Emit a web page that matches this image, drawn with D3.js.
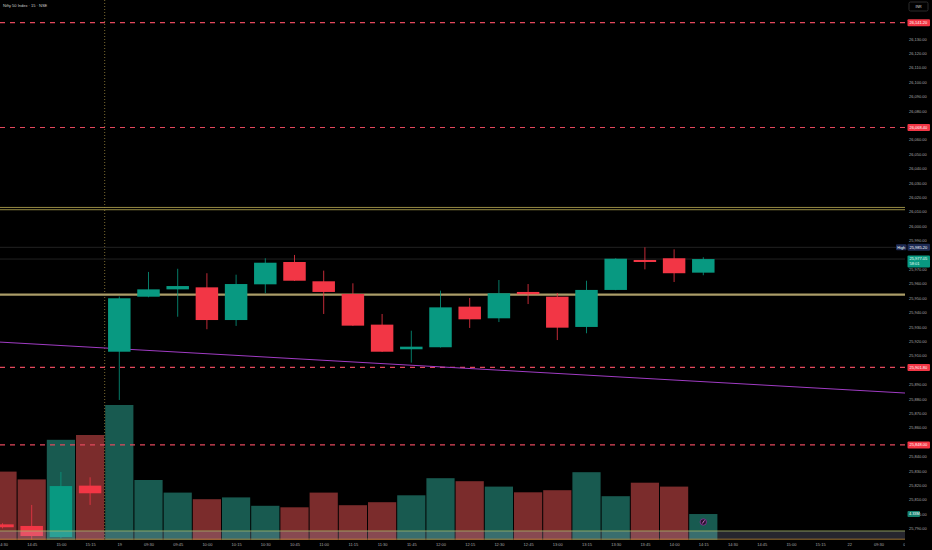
<!DOCTYPE html>
<html>
<head>
<meta charset="utf-8">
<script src="https://cdn.jsdelivr.net/npm/d3@7"></script>
<style>
  body { margin: 0; background: #000; }
  text { font-family: "Liberation Sans", Arial, sans-serif; }
</style>
</head>
<body>
<svg width="932" height="550"></svg>
<script>
// 15 minute bars, index 0 = 14:30 of the previous session
const timeLabels = ["14:30","14:45","15:00","15:15","19","09:30","09:45","10:00","10:15","10:30",
  "10:45","11:00","11:15","11:30","11:45","12:00","12:15","12:30","12:45","13:00",
  "13:15","13:30","13:45","14:00","14:15","14:30","14:45","15:00","15:15","22","09:30","09:45"];

const opens  = [25792.8,25791.7,25784.0,25819.7,25912.7,25950.9,25956.0,25957.4,25934.7,25959.5,
  25975.0,25961.6,25952.8,25931.5,25914.4,25915.8,25944.0,25935.9,25954.2,25950.9,
  25929.9,25955.6,25976.4,25977.6,25967.6];
const highs  = [25793.6,25806.3,25829.2,25825.5,25951.0,25968.1,25970.3,25967.2,25966.2,25977.6,
  25979.9,25969.0,25960.2,25938.9,25927.3,25955.1,25950.0,25962.5,25959.7,25953.5,
  25962.0,25977.6,25985.2,25983.8,25978.3];
const lows   = [25790.0,25782.0,25783.0,25806.3,25879.2,25950.5,25937.0,25928.3,25930.6,25953.3,
  25961.8,25938.9,25930.6,25912.5,25905.1,25915.6,25929.2,25933.3,25945.8,25920.8,
  25925.5,25955.4,25969.9,25961.1,25965.8];
const closes = [25790.8,25784.7,25819.4,25814.4,25949.8,25956.0,25958.3,25934.7,25959.7,25974.5,
  25962.0,25954.2,25930.8,25912.7,25916.2,25943.5,25935.2,25953.3,25952.6,25929.4,
  25955.6,25977.3,25975.0,25967.2,25977.05];
// volume in millions
const volumes = [11.4,10.1,16.7,17.5,22.5,10.0,7.9,6.8,7.1,5.7,
  5.45,7.9,5.8,6.3,7.45,10.3,9.8,8.9,7.95,8.3,
  11.3,7.3,9.55,8.9,4.33];

const priceTicks = [25790,25800,25810,25820,25830,25840,25850,25860,25870,25880,25890,25900,
  25910,25920,25930,25940,25950,25960,25970,25980,25990,26000,26010,26020,26030,26040,
  26050,26060,26070,26080,26090,26100,26110,26120,26130];

const redLevels = [26141.2, 26068.4, 25901.8, 25848.0];
const yellowLevels = [26012.9, 26011.3];
const midLevel = 25952.4;
const bandLevels = [25782.5, 25788.2];
const trendLine = [{i: -0.1, p: 25919.4}, {i: 31, p: 25883.9}];
const highLevel = 25985.2;
const lastPrice = 25977.05;

const svg = d3.select("svg");
const plotW = 905, plotB = 540;

const x = d3.scaleLinear().domain([0, 31]).range([2.5, 2.5 + 29.2 * 31]);
const y = d3.scaleLinear().domain([25790, 26130]).range([528.4, 38.8]);
const yv = d3.scaleLinear().domain([0, 22.5]).range([plotB, 405]);
const step = x(1) - x(0);
const up = "#089981", down = "#f23645";

svg.append("rect").attr("width", 932).attr("height", 550).attr("fill", "#000");
svg.append("defs").append("clipPath").attr("id", "plot")
  .append("rect").attr("width", plotW).attr("height", plotB);

const plot = svg.append("g").attr("clip-path", "url(#plot)");

// volume
plot.append("g").selectAll("rect").data(volumes).join("rect")
  .attr("x", (d, i) => x(i) - step / 2 + 0.5)
  .attr("width", step - 1)
  .attr("y", d => yv(d))
  .attr("height", d => plotB - yv(d))
  .attr("fill", (d, i) => closes[i] >= opens[i] ? "#185a50" : "#7b2c2c");

// session break
plot.append("line").attr("x1", x(3.5)).attr("x2", x(3.5)).attr("y1", 0).attr("y2", plotB)
  .attr("stroke", "#7a6a30").attr("stroke-dasharray", "1,2");

// reference lines
plot.selectAll(".hl").data([highLevel, lastPrice]).join("line")
  .attr("x1", 0).attr("x2", plotW).attr("y1", d => y(d)).attr("y2", d => y(d))
  .attr("stroke", "#2b2b2b").attr("stroke-width", 0.8);

plot.selectAll(".red").data(redLevels).join("line")
  .attr("x1", 0).attr("x2", plotW).attr("y1", d => y(d)).attr("y2", d => y(d))
  .attr("stroke", "#e2485c").attr("stroke-width", 1.2).attr("stroke-dasharray", "5,5");

plot.selectAll(".yel").data(yellowLevels).join("line")
  .attr("x1", 0).attr("x2", plotW).attr("y1", d => y(d)).attr("y2", d => y(d))
  .attr("stroke", "#a99c4c").attr("stroke-width", 0.9);

plot.append("line").attr("x1", 0).attr("x2", plotW).attr("y1", y(midLevel)).attr("y2", y(midLevel))
  .attr("stroke", "#ab9d68").attr("stroke-width", 2.2);

plot.append("line")
  .attr("x1", x(trendLine[0].i)).attr("y1", y(trendLine[0].p))
  .attr("x2", x(trendLine[1].i)).attr("y2", y(trendLine[1].p))
  .attr("stroke", "#a03cc4").attr("stroke-width", 1);

// candles
const candles = plot.append("g").selectAll("g").data(opens).join("g");
candles.append("line")
  .attr("x1", (d, i) => x(i)).attr("x2", (d, i) => x(i))
  .attr("y1", (d, i) => y(highs[i])).attr("y2", (d, i) => y(lows[i]))
  .attr("stroke", (d, i) => closes[i] >= opens[i] ? up : down).attr("stroke-width", 1).attr("opacity", 0.8);
candles.append("rect")
  .attr("x", (d, i) => x(i) - step * 0.385)
  .attr("width", step * 0.77)
  .attr("y", (d, i) => y(Math.max(opens[i], closes[i])))
  .attr("height", (d, i) => Math.max(1.5, Math.abs(y(opens[i]) - y(closes[i]))))
  .attr("fill", (d, i) => closes[i] >= opens[i] ? up : down);

// bottom zone
plot.append("rect").attr("x", 0).attr("width", plotW)
  .attr("y", y(bandLevels[1])).attr("height", y(bandLevels[0]) - y(bandLevels[1]))
  .attr("fill", "rgba(190,190,230,0.2)");
plot.append("line").attr("x1", 0).attr("x2", plotW).attr("y1", y(bandLevels[1])).attr("y2", y(bandLevels[1]))
  .attr("stroke", "#a6b86a").attr("stroke-width", 0.8);
plot.append("line").attr("x1", 0).attr("x2", plotW).attr("y1", y(bandLevels[0])).attr("y2", y(bandLevels[0]))
  .attr("stroke", "#c08a3a").attr("stroke-width", 0.8);

// event marker
svg.append("circle").attr("cx", x(24)).attr("cy", 522).attr("r", 3.2)
  .attr("fill", "#2a1230").attr("stroke", "#8a3a9a").attr("stroke-width", 0.8);
svg.append("path").attr("d", `M${x(24) - 1},${523.5} L${x(24) + 1.2},${520.3}`)
  .attr("stroke", "#e07ad0").attr("stroke-width", 0.9);

// price axis
const tagYs = redLevels.concat([highLevel, lastPrice]).map(d => y(d));
const pAxis = svg.append("g").attr("transform", `translate(909,0)`)
  .call(d3.axisRight(y).tickValues(priceTicks).tickSize(0).tickPadding(0).tickFormat(d3.format(",.2f")));
pAxis.select(".domain").remove();
pAxis.selectAll("text").attr("fill", "#a9a9a9").style("font-size", "4px")
  .style("display", d => tagYs.some(t => Math.abs(t - y(d)) < 5.5) ? "none" : null);

// time axis
svg.append("defs").append("clipPath").attr("id", "tclip")
  .append("rect").attr("x", 0).attr("width", plotW).attr("height", 550);
const tAxis = svg.append("g").attr("clip-path", "url(#tclip)").append("g")
  .attr("transform", `translate(0,${plotB})`)
  .call(d3.axisBottom(x).tickValues(d3.range(0, 32)).tickSize(0).tickPadding(3.5)
    .tickFormat(i => timeLabels[i]));
tAxis.select(".domain").remove();
tAxis.selectAll("text").attr("fill", "#a9a9a9").style("font-size", "4px");

// axis tags
function tag(v, label, bg) {
  svg.append("rect").attr("x", 907.5).attr("y", y(v) - 3.5).attr("width", 22.5).attr("height", 7)
    .attr("rx", 1).attr("fill", bg);
  svg.append("text").attr("x", 909.5).attr("y", y(v)).attr("dy", "0.35em")
    .attr("fill", "#fff").style("font-size", "4px").text(label);
}
redLevels.forEach(v => tag(v, d3.format(",.2f")(v), "#f23645"));
tag(highLevel, d3.format(",.2f")(highLevel), "#1e2b55");
svg.append("rect").attr("x", 896).attr("y", y(highLevel) - 3).attr("width", 10.5).attr("height", 6)
  .attr("rx", 1).attr("fill", "#1e2b55");
svg.append("text").attr("x", 897.3).attr("y", y(highLevel)).attr("dy", "0.35em")
  .attr("fill", "#fff").style("font-size", "3.8px").text("High");

svg.append("rect").attr("x", 907.5).attr("y", y(lastPrice) - 3.5).attr("width", 22.5).attr("height", 12)
  .attr("rx", 1).attr("fill", up);
svg.append("text").attr("x", 909.5).attr("y", y(lastPrice)).attr("dy", "0.35em")
  .attr("fill", "#fff").style("font-size", "4px").text(d3.format(",.2f")(lastPrice));
svg.append("text").attr("x", 909.5).attr("y", y(lastPrice) + 5).attr("dy", "0.35em")
  .attr("fill", "#e8fff8").style("font-size", "4px").text("58:01");

// volume tag
const lastVol = volumes[volumes.length - 1];
svg.append("rect").attr("x", 907.5).attr("y", yv(lastVol) - 3).attr("width", 12.5).attr("height", 6)
  .attr("rx", 1).attr("fill", "#15806c");
svg.append("text").attr("x", 909).attr("y", yv(lastVol)).attr("dy", "0.35em")
  .attr("fill", "#fff").style("font-size", "3.8px").text(lastVol.toFixed(2) + "M");

// title and currency
svg.append("text").attr("x", 3).attr("y", 6).attr("dy", "0.35em")
  .attr("fill", "#cfcfcf").style("font-size", "4px").text("Nifty 50 Index · 15 · NSE");
svg.append("rect").attr("x", 909).attr("y", 2).attr("width", 19).attr("height", 9)
  .attr("rx", 1.5).attr("fill", "none").attr("stroke", "#3c3c3c").attr("stroke-width", 0.7);
svg.append("text").attr("x", 918.5).attr("y", 6.5).attr("dy", "0.35em").attr("text-anchor", "middle")
  .attr("fill", "#d8d8d8").style("font-size", "3.6px").text("INR");
</script>
</body>
</html>
